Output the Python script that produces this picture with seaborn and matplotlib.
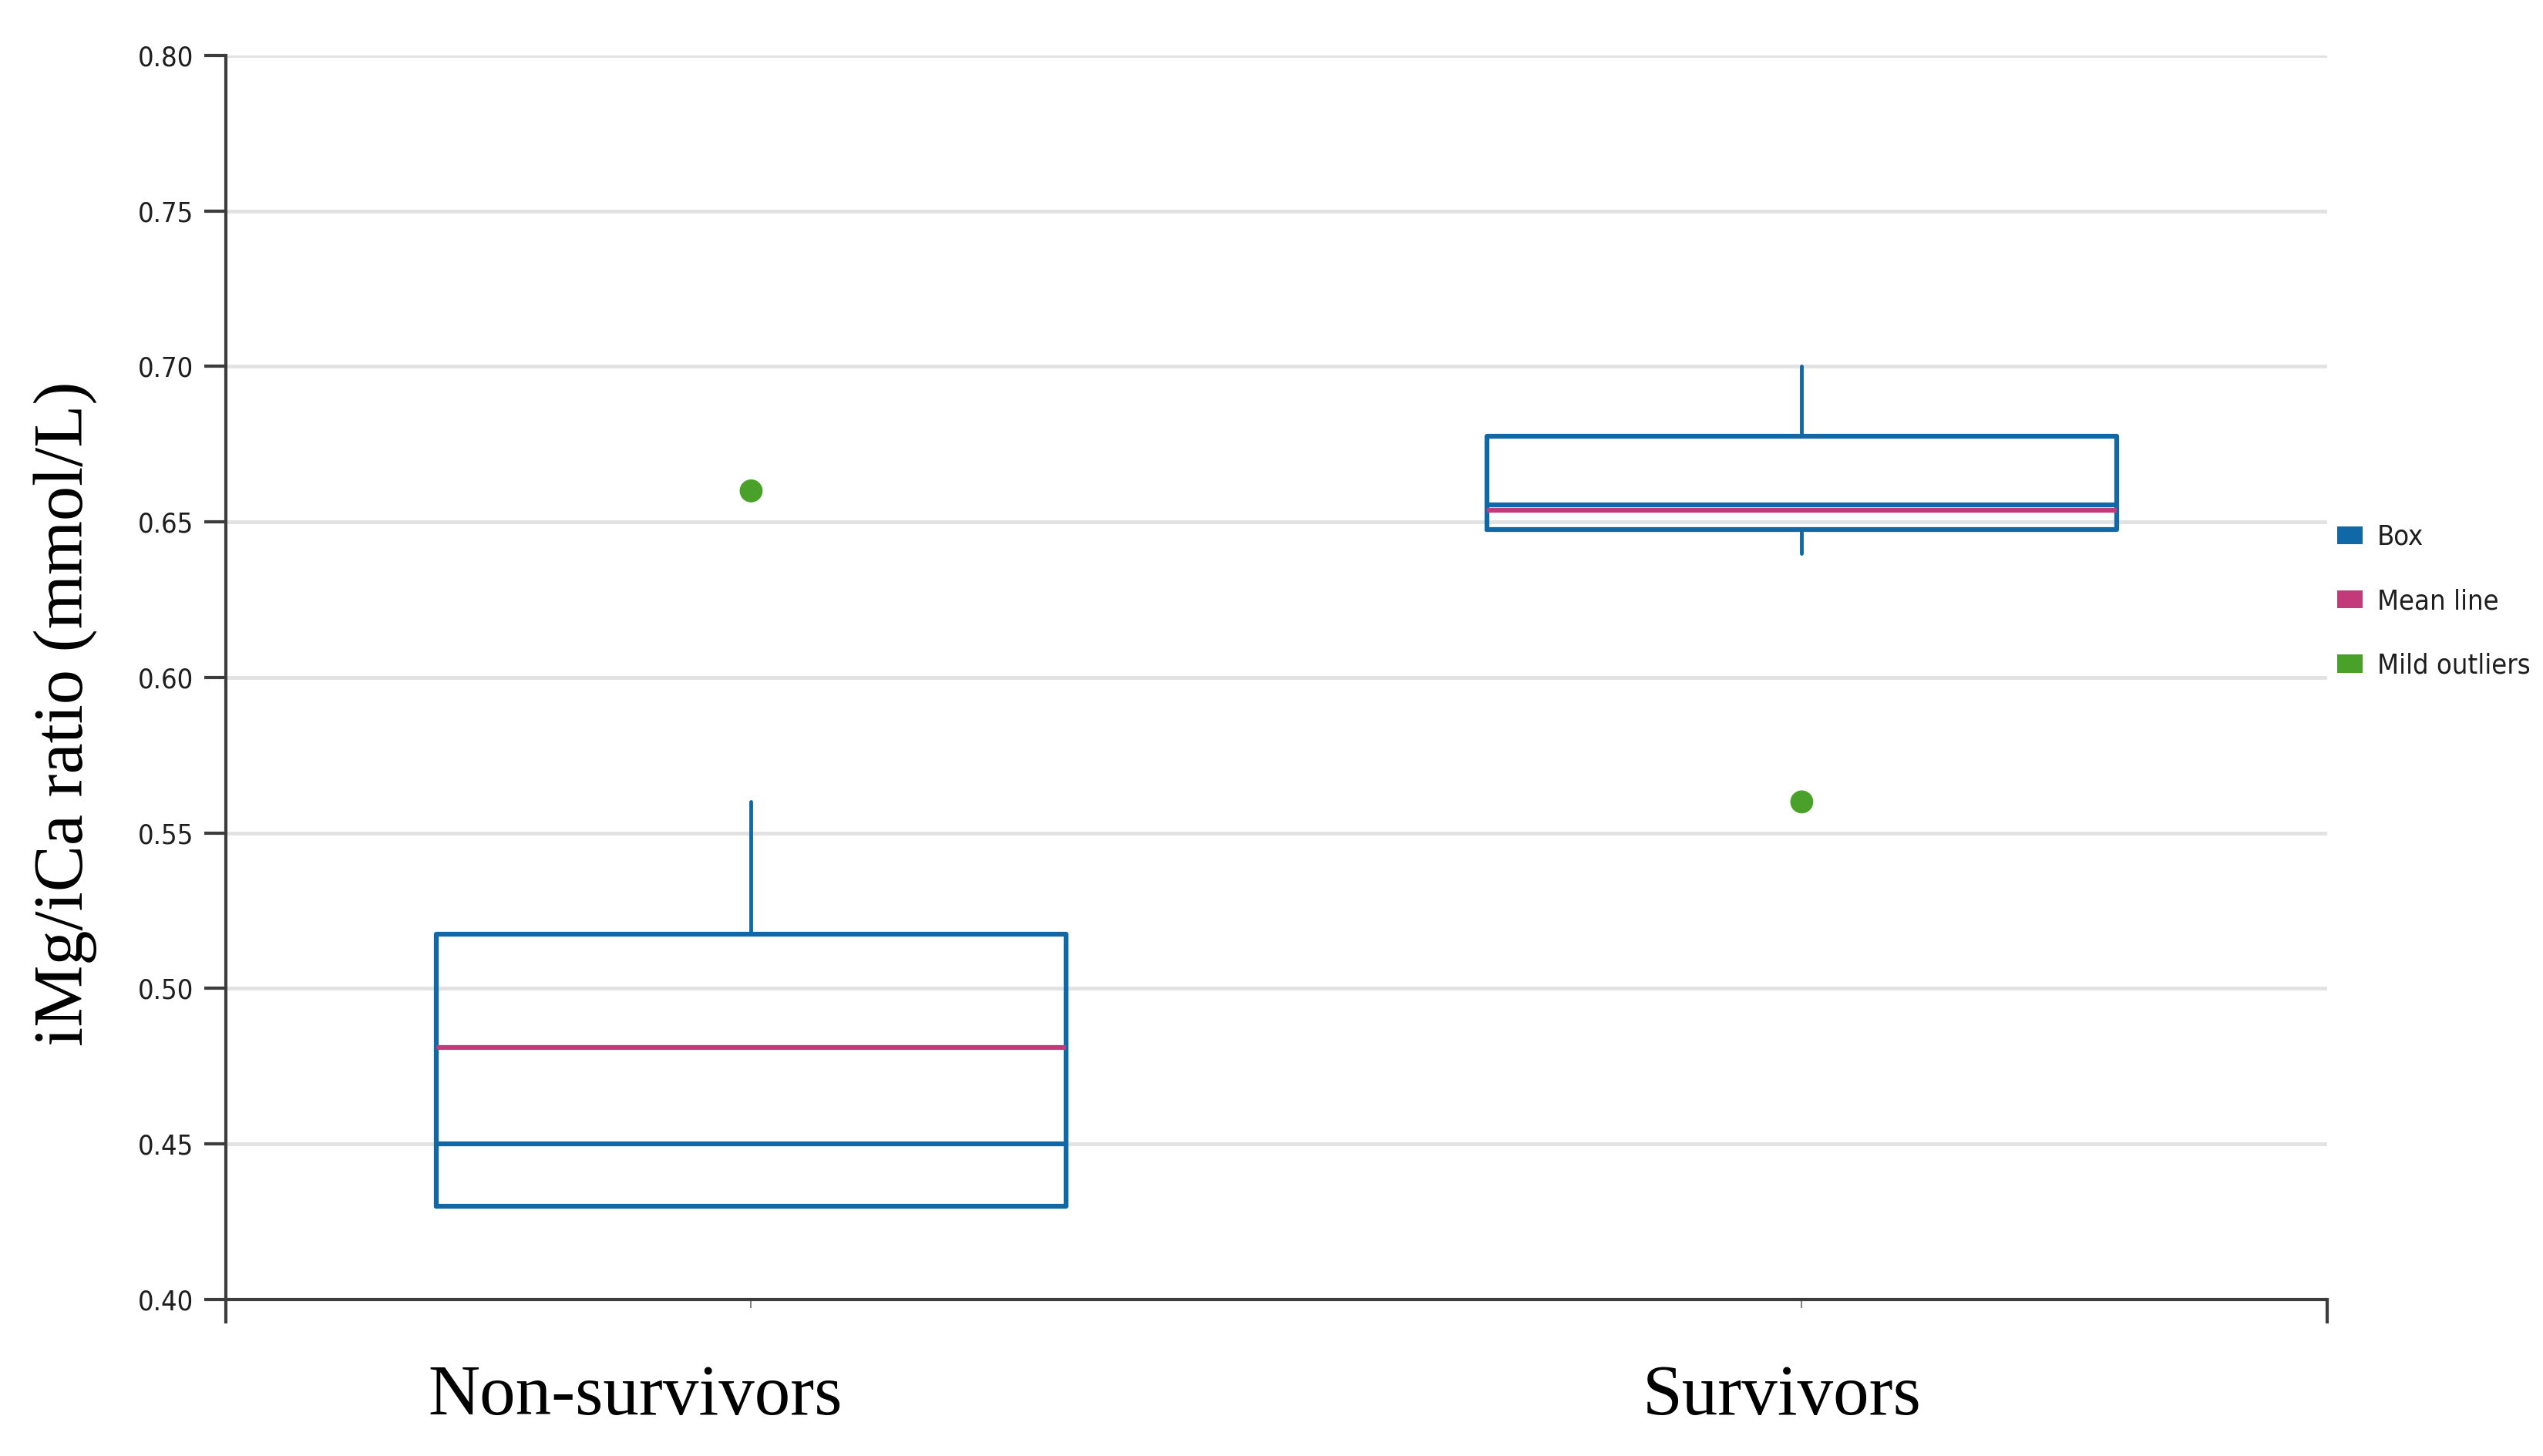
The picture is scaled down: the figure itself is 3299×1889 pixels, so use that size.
import matplotlib
matplotlib.use("Agg")
import matplotlib.pyplot as plt
import seaborn as sns
from matplotlib.patches import Patch

# ---- data ----
groups = ["Non-survivors", "Survivors"]
q1 = [0.430, 0.6475]
median = [0.450, 0.6555]
q3 = [0.5175, 0.6775]
whisker_low = [0.430, 0.640]
whisker_high = [0.560, 0.700]
means = [0.481, 0.6538]
outliers = [0.660, 0.560]
yticks = [0.40, 0.45, 0.50, 0.55, 0.60, 0.65, 0.70, 0.75, 0.80]
ytick_labels = ["0.40", "0.45", "0.50", "0.55", "0.60", "0.65", "0.70", "0.75", "0.80"]
legend_labels = ["Box", "Mean line", "Mild outliers"]
y_label = "iMg/iCa ratio (mmol/L)"

BLUE = "#1068a6"
PINK = "#c23a7a"
GREEN = "#4aa12a"
AXIS = "#3c3c3c"
GRID = "#e2e2e2"

sns.set_theme(style="white")
plt.rcParams['font.family'] = ['DejaVu Sans']

fig = plt.figure(figsize=(32.99, 18.89), dpi=100)
ax = fig.add_axes([0.0888, 0.1075, 0.8263, 0.8544])

positions = list(range(len(groups)))
stats = []
for i, g in enumerate(groups):
    stats.append(dict(label=g, q1=q1[i], med=median[i], q3=q3[i],
                      whislo=whisker_low[i], whishi=whisker_high[i],
                      mean=means[i], fliers=[]))

ax.bxp(stats, positions=positions, widths=0.6, showmeans=True, meanline=True,
       showcaps=False, showfliers=False,
       boxprops=dict(color=BLUE, linewidth=4.5),
       whiskerprops=dict(color=BLUE, linewidth=3.5),
       medianprops=dict(color=BLUE, linewidth=4.5),
       meanprops=dict(color=PINK, linewidth=4.5, linestyle='-'))

sns.scatterplot(x=positions, y=outliers, ax=ax, color=GREEN, s=460,
                edgecolor="none", zorder=5, legend=False)

ax.set_xlim(-0.5, 1.5)
ax.set_ylim(0.40, 0.80)
ax.set_yticks(yticks)
ax.set_yticklabels(ytick_labels)
ax.set_xticks([-0.5, 1.5])
ax.set_xticklabels([])
ax.set_xticks(positions, minor=True)
ax.tick_params(axis='x', which='major', direction='out', length=22, width=3,
               color=AXIS, bottom=True)
ax.tick_params(axis='x', which='minor', direction='out', length=8, width=1.5,
               color="#888888", bottom=True)
ax.tick_params(axis='y', which='major', direction='out', length=20, width=3,
               color=AXIS, left=True, pad=10, labelsize=26, labelcolor="#1e1e1e")
for lab in ax.get_yticklabels():
    lab.set_fontstretch('condensed')

ax.yaxis.grid(True, color=GRID, linewidth=3.5)
ax.xaxis.grid(False)
ax.set_axisbelow(True)
for s in ["top", "right"]:
    ax.spines[s].set_visible(False)
for s in ["left", "bottom"]:
    ax.spines[s].set_color(AXIS)
    ax.spines[s].set_linewidth(3)
ax.set_xlabel("")
ax.set_ylabel("")

serif = ['Liberation Serif', 'DejaVu Serif']
fig.text(0.0255, 0.5098, y_label, rotation=90, ha='center', va='center',
         family=serif, fontsize=65, color="black")
label_x = [0.1948, 0.7407]
for g, xp in zip(groups, label_x):
    fx = 0.0888 + xp * 0.8263
    fig.text(fx, 0.0286, g, ha='center', va='baseline', family=serif,
             fontsize=67, color="black")

handles = [Patch(facecolor=BLUE, edgecolor='none'),
           Patch(facecolor=PINK, edgecolor='none'),
           Patch(facecolor=GREEN, edgecolor='none')]
leg = fig.legend(handles, legend_labels, loc='upper left',
                 bbox_to_anchor=(0.919, 0.6401), frameon=False,
                 prop=dict(family='DejaVu Sans', size=26, stretch='condensed'),
                 handlelength=0.92, handleheight=0.61, handletextpad=0.53,
                 labelspacing=1.37, borderpad=0, borderaxespad=0)
for t in leg.get_texts():
    t.set_color("#1e1e1e")

fig.savefig("out.png", dpi=100, facecolor="white")
